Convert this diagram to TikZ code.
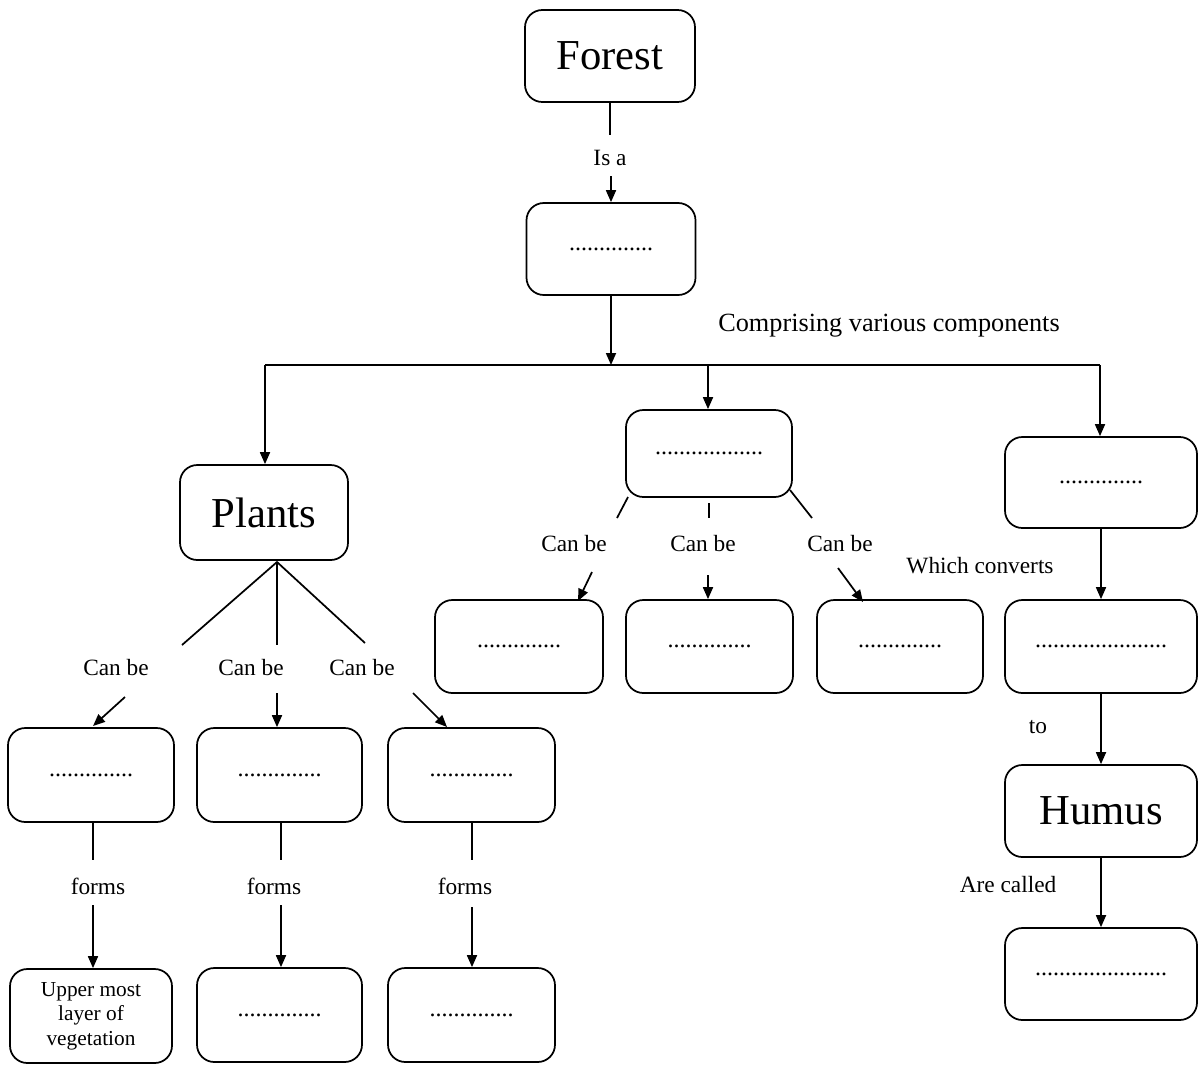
\documentclass[tikz,border=0pt]{standalone}
\usepackage{fontspec}
\setmainfont{Liberation Serif}
\usetikzlibrary{arrows.meta}
\begin{document}
\begin{tikzpicture}[x=0.75pt,y=-0.75pt,
  box/.style 2 args={draw, line width=1.3pt, rounded corners=13pt,
    minimum width=#1*0.75pt, minimum height=#2*0.75pt, inner sep=0pt,
    font=\fontsize{18}{20}\selectfont},
  big/.style={font=\fontsize{32}{36}\selectfont},
  lbl/.style={font=\fontsize{17.5}{20}\selectfont, inner sep=0pt},
  conn/.style={line width=1.3pt},
  arr/.style={conn, -{Triangle[length=9pt,width=7.5pt]}},
]
\useasboundingbox (0,0) rectangle (1202,1072);

% ---- boxes ----
\node[box={170}{92}, big] (forest) at (610,56) {Forest};
\node[box={169}{92}] (eco) at (611,249) {..............};
\node[box={168}{95}, big] (plants) at (264,512.5) {Plants};
\node[box={166}{87}] (mid) at (709,453.5) {..................};
\node[box={192}{91}] (rone) at (1101,482.5) {..............};
\node[box={168}{93}] (d) at (519,646.5) {..............};
\node[box={167}{93}] (e) at (709.5,646.5) {..............};
\node[box={166}{93}] (f) at (900,646.5) {..............};
\node[box={192}{93}] (rtwo) at (1101,646.5) {......................};
\node[box={192}{92}, big] (humus) at (1101,811) {Humus};
\node[box={192}{92}] (rfour) at (1101,974) {......................};
\node[box={166}{94}] (a) at (91,775) {..............};
\node[box={165}{94}] (b) at (279.5,775) {..............};
\node[box={167}{94}] (c) at (471.5,775) {..............};
\node[box={162}{94}, align=center, font=\fontsize{16}{18.5}\selectfont] (atwo) at (91,1016) {Upper most\\layer of\\vegetation};
\node[box={165}{94}] (btwo) at (279.5,1015) {..............};
\node[box={167}{94}] (ctwo) at (471.5,1015) {..............};

% ---- labels ----
\node[lbl] (isa) at (610,158) {Is a};
\node[lbl, font=\fontsize{19.7}{22}\selectfont] (comp) at (889,326) {Comprising various components};
\node[lbl] (pl1) at (116,668) {Can be};
\node[lbl] (pl2) at (251,668) {Can be};
\node[lbl] (pl3) at (362,668) {Can be};
\node[lbl] (m1) at (574,544) {Can be};
\node[lbl] (m2) at (703,544) {Can be};
\node[lbl] (m3) at (840,544) {Can be};
\node[lbl] (conv) at (980,566) {Which converts};
\node[lbl] (to) at (1038,727) {to};
\node[lbl] (called) at (1008,885) {Are called};
\node[lbl] (fa) at (98,886) {forms};
\node[lbl] (fb) at (274,886) {forms};
\node[lbl] (fc) at (465,886) {forms};

% ---- junction points ----
\coordinate (isaTop) at (610,135);
\coordinate (isaArr) at (611,176);
\coordinate (bus) at (611,365);
\coordinate (busL) at (265,365);
\coordinate (busM) at (708,365);
\coordinate (busR) at (1100,365);
\coordinate (apex) at (277,562);
\coordinate (pL) at (182,645);
\coordinate (pM) at (277,645);
\coordinate (pR) at (365,643);
\coordinate (pLa) at (125,697);
\coordinate (pLb) at (93,726);
\coordinate (pMa) at (277,693);
\coordinate (pRa) at (413,693);
\coordinate (pRb) at (447,727);
\coordinate (mLa) at (628,497);
\coordinate (mLb) at (617,518);
\coordinate (mMa) at (709,503);
\coordinate (mMb) at (709,518);
\coordinate (mRa) at (790,490);
\coordinate (mRb) at (812,518);
\coordinate (mLc) at (592,572);
\coordinate (mLd) at (578,601);
\coordinate (mMc) at (708,575);
\coordinate (mRc) at (838,568);
\coordinate (mRd) at (863,602);
\coordinate (aL) at (93,860);
\coordinate (aA) at (93,905);
\coordinate (bL) at (281,860);
\coordinate (bA) at (281,905);
\coordinate (cL) at (472,860);
\coordinate (cA) at (472,907);

% ---- connectors ----
\draw[conn] (forest.south) -- (isaTop);
\draw[arr] (isaArr) -- (isaArr |- eco.north);
\draw[arr] (eco.south) -- (bus);
\draw[conn] (busL) -- (busR);
\draw[arr] (busL) -- (busL |- plants.north);
\draw[arr] (busM) -- (busM |- mid.north);
\draw[arr] (busR) -- (busR |- rone.north);

\draw[conn] (pL) -- (apex) -- (pR);
\draw[conn] (apex) -- (pM);
\draw[arr] (pLa) -- (pLb);
\draw[arr] (pMa) -- (pMa |- b.north);
\draw[arr] (pRa) -- (pRb);

\draw[conn] (mLa) -- (mLb);
\draw[conn] (mMa) -- (mMb);
\draw[conn] (mRa) -- (mRb);
\draw[arr] (mLc) -- (mLd);
\draw[arr] (mMc) -- (mMc |- e.north);
\draw[arr] (mRc) -- (mRd);

\draw[arr] (rone.south) -- (rtwo.north);
\draw[arr] (rtwo.south) -- (humus.north);
\draw[arr] (humus.south) -- (rfour.north);

\draw[conn] (aL |- a.south) -- (aL);
\draw[arr] (aA) -- (aA |- atwo.north);
\draw[conn] (bL |- b.south) -- (bL);
\draw[arr] (bA) -- (bA |- btwo.north);
\draw[conn] (cL |- c.south) -- (cL);
\draw[arr] (cA) -- (cA |- ctwo.north);
\end{tikzpicture}
\end{document}
